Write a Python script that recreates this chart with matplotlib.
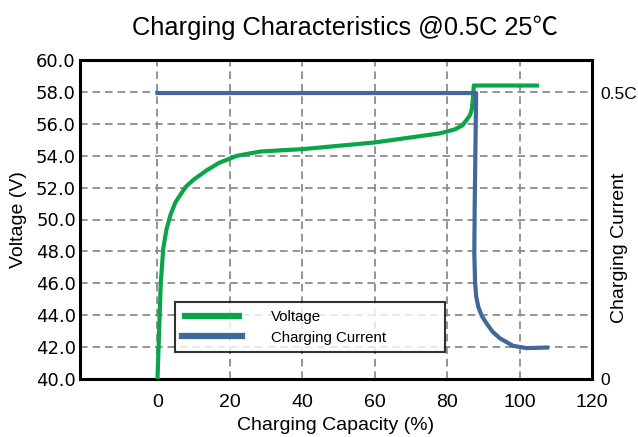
import matplotlib
matplotlib.use("Agg")
import matplotlib.pyplot as plt

plt.rcParams['lines.scale_dashes'] = False

# ---- data ----
volt_cap = [0, 0.3, 0.6, 0.9, 1.6, 2.5, 3.6, 5.0, 7.8, 10, 13.7, 17.0, 22, 28.4, 36.6, 40, 60, 78, 82.1, 84.2, 85.4, 86.3, 86.8, 87.2, 87.35, 105.4]
volt_v = [40.0, 42.0, 44.0, 46.0, 48.2, 49.4, 50.3, 51.1, 52.05, 52.5, 53.1, 53.55, 54.0, 54.26, 54.37, 54.41, 54.83, 55.4, 55.65, 55.9, 56.25, 56.55, 56.9, 57.8, 58.4, 58.4]

curr_cap = [0, 88.0, 87.8, 87.6, 87.5, 87.7, 88.0, 88.6, 89.6, 90.9, 92.5, 94.6, 98.2, 101.9, 107.6]
curr_i = [0.5, 0.5, 0.40, 0.30, 0.22, 0.17, 0.145, 0.126, 0.11, 0.097, 0.083, 0.071, 0.058, 0.054, 0.055]

x_ticks = [0, 20, 40, 60, 80, 100, 120]
y_ticks = [40, 42, 44, 46, 48, 50, 52, 54, 56, 58, 60]
y_ticklabels = ['40.0', '42.0', '44.0', '46.0', '48.0', '50.0', '52.0', '54.0', '56.0', '58.0', '60.0']
r_ticks = [0, 0.5]
r_ticklabels = ['0', '0.5C']

title = 'Charging Characteristics @0.5C 25\u2103'

GREEN = '#0aa54a'
BLUE = '#41689a'
GRID = '#8c8c8c'
SANS = ['Liberation Sans', 'Noto Sans CJK SC', 'DejaVu Sans']

fig = plt.figure(figsize=(6.38, 4.37), dpi=100)
ax = fig.add_axes([80/638, 1-379/437, 512/638, 319/437])
ax.set_xlim(-21.4, 120)
ax.set_ylim(40, 60)

# grid
for v in y_ticks[1:-1]:
    ax.axhline(v, color=GRID, lw=1.3, ls=(0, (5.5, 3.5)), zorder=1)
for c in x_ticks[:-1]:
    ax.axvline(c, color=GRID, lw=1.3, ls=(0, (5.5, 3.5)), zorder=1)

ax.plot(volt_cap, volt_v, color=GREEN, lw=3.0, solid_capstyle='butt',
        solid_joinstyle='round', zorder=3, label='Voltage')

ax.set_yticks(y_ticks)
ax.set_yticklabels(y_ticklabels, family='DejaVu Sans', fontsize=13)
ax.set_xticks(x_ticks)
ax.set_xticklabels([str(t) for t in x_ticks], family=SANS, fontsize=14)
ax.tick_params(axis='y', length=0, pad=3)
ax.tick_params(axis='x', length=0, pad=11)
for s in ax.spines.values():
    s.set_linewidth(2.2)
    s.set_color('black')

ax.set_ylabel('Voltage (V)', family=SANS, fontsize=14)
ax.yaxis.set_label_coords(-0.103, 0.5)
ax.set_xlabel('Charging Capacity (%)', family=SANS, fontsize=14)
ax.xaxis.set_label_coords(0.5, -0.12)

ax2 = ax.twinx()
ax2.set_ylim(0, 0.5 * 20 / 17.93)
ax2.plot(curr_cap, curr_i, color=BLUE, lw=3.0, solid_joinstyle='round',
         zorder=3, label='Charging Current')
ax2.set_yticks(r_ticks)
ax2.set_yticklabels(r_ticklabels, family=SANS, fontsize=12.5)
ax2.tick_params(axis='y', length=0, pad=6)
for s in ax2.spines.values():
    s.set_visible(False)
ax2.set_ylabel('Charging Current', family=SANS, fontsize=14)
ax2.yaxis.set_label_coords(1.037, 0.41)

h1, l1 = ax.get_legend_handles_labels()
h2, l2 = ax2.get_legend_handles_labels()
leg = ax2.legend(h1 + h2, l1 + l2, loc='lower left',
                 bbox_to_anchor=(0.1855, 0.0846, 0.5275, 0.158), mode='expand',
                 prop={'family': SANS, 'size': 10.8}, frameon=True, fancybox=False,
                 edgecolor='black', borderpad=0.5, labelspacing=0.45,
                 handlelength=4.0, handletextpad=1.9, borderaxespad=0)
leg.get_frame().set_linewidth(1.5)
for ln in leg.get_lines():
    ln.set_linewidth(4.5)

fig.text(345/638, 1-28/437, title, ha='center', va='center', family=SANS, fontsize=18.3)

fig.savefig('out.png', dpi=100)
